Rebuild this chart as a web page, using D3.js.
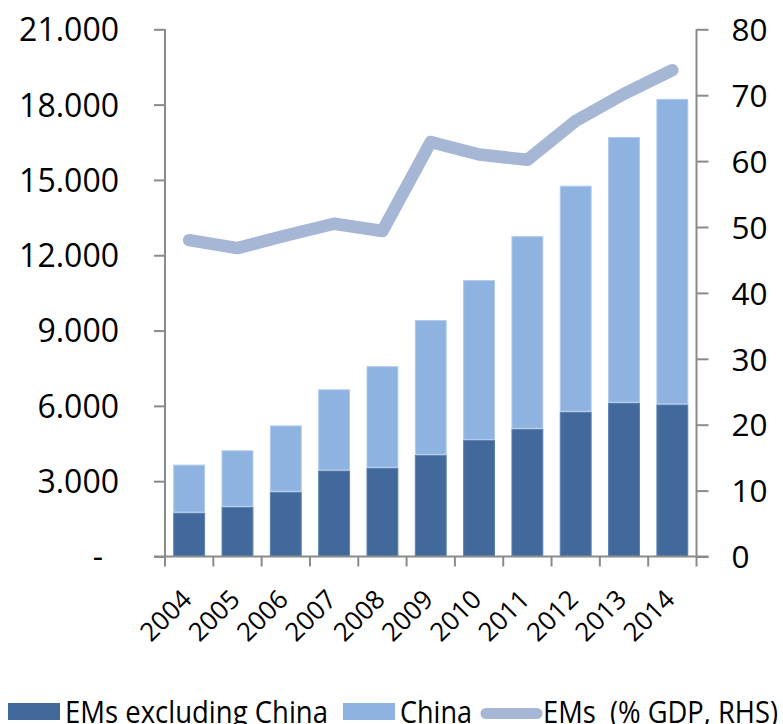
<!DOCTYPE html>
<html>
<head>
<meta charset="utf-8">
<script src="https://cdn.jsdelivr.net/npm/d3@7"></script>
<style>
  html, body { margin: 0; padding: 0; background: #fff; }
  svg { display: block; }
  text { font-family: "Open Sans", "Noto Sans", sans-serif; fill: #000; }
</style>
</head>
<body>
<svg id="chart" width="783" height="724"></svg>
<script>
// Emerging-market figures, 2004–2014
const years = ["2004", "2005", "2006", "2007", "2008", "2009", "2010", "2011", "2012", "2013", "2014"];
const emsExChina = [1750, 1980, 2580, 3430, 3540, 4050, 4640, 5090, 5770, 6130, 6060];
const china = [1910, 2250, 2640, 3230, 4040, 5370, 6370, 7670, 9000, 10580, 12170];
const emsGdpShare = [48.0, 46.8, 48.7, 50.5, 49.4, 62.9, 61.0, 60.2, 66.1, 70.2, 73.8];
const leftTicks = [0, 3000, 6000, 9000, 12000, 15000, 18000, 21000];
const rightTicks = [0, 10, 20, 30, 40, 50, 60, 70, 80];
const seriesNames = ["EMs excluding China", "China", "EMs  (% GDP, RHS)"];

const colors = { dark: "#41699b", light: "#8eb3e1", line: "#a5b7d5", axis: "#8a8a8a" };

const svg = d3.select("#chart");
const plot = { left: 165, right: 696.5, top: 29.3, bottom: 556.5 };

const x = d3.scaleBand().domain(years).range([plot.left, plot.right])
  .paddingInner(0.34).paddingOuter(0.17);
const yL = d3.scaleLinear().domain([0, 21000]).range([plot.bottom, plot.top]);
const yR = d3.scaleLinear().domain([0, 80]).range([plot.bottom, plot.top]);

// Stacked bars
const rows = years.map((yr, i) => ({ year: yr, ex: emsExChina[i], cn: china[i] }));
const stack = d3.stack().keys(["ex", "cn"])(rows);
const fills = [colors.dark, colors.light];
const edges = ["#5d83b3", "#b0caeb"];

svg.append("g").selectAll("g").data(stack).join("g")
  .attr("fill", (d, i) => fills[i])
  .attr("stroke", (d, i) => edges[i])
  .attr("stroke-width", 1)
  .selectAll("rect").data(d => d).join("rect")
  .attr("x", d => x(d.data.year) + 0.5)
  .attr("width", x.bandwidth() - 1)
  .attr("y", d => yL(d[1]) + 0.5)
  .attr("height", d => Math.max(0, yL(d[0]) - yL(d[1]) - 1));

// Left axis
const leftAxis = d3.axisLeft(yL).tickValues(leftTicks).tickSize(11).tickPadding(35)
  .tickFormat(v => v === 0 ? "-" : d3.format(",")(v).replace(/,/g, "."));
const gL = svg.append("g").attr("transform", `translate(${plot.left},0)`).call(leftAxis);
gL.select(".domain").attr("d", `M0,${plot.top}V${plot.bottom}`);
gL.selectAll(".tick text").filter(d => d === 0).attr("x", -62);

// Right axis
const rightAxis = d3.axisRight(yR).tickValues(rightTicks).tickSize(12).tickPadding(23);
const gR = svg.append("g").attr("transform", `translate(${plot.right},0)`).call(rightAxis);
gR.select(".domain").attr("d", `M0,${plot.top}V${plot.bottom}`);

// Category axis
const bottomAxis = d3.axisBottom(x).tickSize(0).tickPadding(0);
const gB = svg.append("g").attr("transform", `translate(0,${plot.bottom})`).call(bottomAxis);
gB.select(".domain").attr("d", `M${plot.left - 11},0H${plot.right + 12}`);
gB.selectAll(".tick text")
  .attr("text-anchor", "end")
  .attr("dy", 0)
  .attr("y", 0)
  .attr("transform", `translate(4,44.5) rotate(-45)`)
  .style("font-size", "26px");
// tick marks on category boundaries
const bounds = years.map(yr => x(yr) - x.step() * x.paddingInner() / 2).concat([plot.right]);
gB.selectAll("line.cat").data(bounds).join("line").attr("class", "cat")
  .attr("x1", d => d).attr("x2", d => d).attr("y1", 0).attr("y2", 10);

[gL, gR, gB].forEach(g => {
  g.selectAll(".domain").attr("stroke", colors.axis).attr("stroke-width", 2);
  g.selectAll("line").attr("stroke", colors.axis).attr("stroke-width", 2);
});
gL.selectAll(".tick text").style("font-size", "32px").attr("dy", "0.357em");
gR.selectAll(".tick text").style("font-size", "31.5px").attr("dy", "0.357em");

// GDP-share line
const line = d3.line()
  .x((d, i) => x(years[i]) + x.bandwidth() / 2)
  .y(d => yR(d));
svg.append("path").datum(emsGdpShare)
  .attr("d", line)
  .attr("fill", "none")
  .attr("stroke", colors.line)
  .attr("stroke-width", 12.5)
  .attr("stroke-linejoin", "round")
  .attr("stroke-linecap", "round");

// Legend
const lg = svg.append("g");
lg.append("rect").attr("x", 8).attr("y", 703).attr("width", 52).attr("height", 17).attr("fill", colors.dark);
lg.append("text").attr("x", 65).attr("y", 723).style("font-size", "31px")
  .attr("textLength", 263).attr("lengthAdjust", "spacingAndGlyphs").text(seriesNames[0]);
lg.append("rect").attr("x", 343).attr("y", 703).attr("width", 52).attr("height", 17).attr("fill", colors.light);
lg.append("text").attr("x", 400).attr("y", 723).style("font-size", "31px")
  .attr("textLength", 72).attr("lengthAdjust", "spacingAndGlyphs").text(seriesNames[1]);
lg.append("line").attr("x1", 486).attr("x2", 537).attr("y1", 713.5).attr("y2", 713.5)
  .attr("stroke", colors.line).attr("stroke-width", 11).attr("stroke-linecap", "round");
lg.append("text").attr("x", 543).attr("y", 723).style("font-size", "31px").style("white-space", "pre")
  .attr("xml:space", "preserve")
  .attr("textLength", 235).attr("lengthAdjust", "spacingAndGlyphs").text(seriesNames[2]);
</script>
</body>
</html>
